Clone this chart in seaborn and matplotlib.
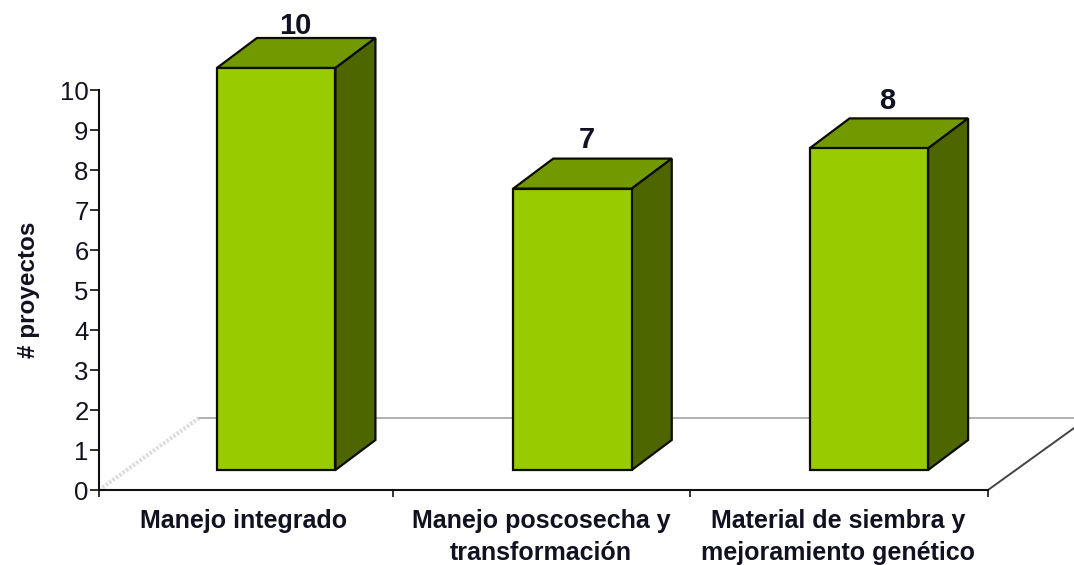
#!/usr/bin/env python3

import matplotlib
matplotlib.use("Agg")
import matplotlib.pyplot as plt
from matplotlib.lines import Line2D
from matplotlib.patches import Polygon
from matplotlib.transforms import IdentityTransform
import seaborn as sns

categories = ["Manejo integrado",
              "Manejo poscosecha y\ntransformación",
              "Material de siembra y\nmejoramiento genético"]
proyectos = [10, 7, 8]
y_ticks = [0, 1, 2, 3, 4, 5, 6, 7, 8, 9, 10]

W, H = 1074, 565
FRONT = "#99CC00"
TOP = "#739900"
SIDE = "#4D6600"
EDGE = "#0c0c00"
INK = "#111122"

sns.set_style("white")
plt.rcParams["font.family"] = ["Liberation Sans", "DejaVu Sans"]

fig = plt.figure(figsize=(W / 100, H / 100), dpi=100)

# axes with ticks, in pixels of the picture
ax = fig.add_axes([99 / W, (H - 490) / H, 889 / W, 400 / H])
ax.set_xlim(0, 3)
ax.set_ylim(0, 10)
ax.set_yticks(y_ticks)
ax.set_xticks([0, 0.993, 1.996, 3])
ax.set_xticklabels([])
ax.set_xticks([0.487, 1.492, 2.494], minor=True)
ax.set_xticklabels(categories, minor=True, fontsize=18, fontweight="bold",
                   color=INK, linespacing=1.42)
ax.tick_params(axis="x", which="major", bottom=True, length=5, width=1.2, color="#111111")
ax.tick_params(axis="x", which="minor", bottom=False, length=0, pad=13.5)
ax.tick_params(axis="y", left=True, length=6.5, width=1.2, color="#111111",
               labelsize=18.5, labelcolor=INK, pad=1)
ax.set_ylabel("# proyectos", fontsize=17.5, fontweight="bold", color=INK, labelpad=14)
sns.despine(ax=ax)
for s in ["left", "bottom"]:
    ax.spines[s].set_linewidth(1.5)
    ax.spines[s].set_color("#111111")

# floor of the 3d box
id_tr = IdentityTransform()
ax.add_line(Line2D([99, 199], [H - 490, H - 418], transform=id_tr, color="#dddddd", lw=3,
                   ls=(0, (0.6, 0.4)), clip_on=False, zorder=1))
ax.add_line(Line2D([199, 1074], [H - 418, H - 418], transform=id_tr, color="#aaaaaa", lw=1.3,
                   clip_on=False, zorder=1))
ax.add_line(Line2D([988, 1088], [H - 490, H - 418], transform=id_tr, color="#444444", lw=1.4,
                   clip_on=False, zorder=1))

# bars sit on their own axes, moved into the depth of the box
ax_bars = fig.add_axes([128 / W, (H - 470) / H, 889 / W, 402 / H], zorder=3)
ax_bars.patch.set_alpha(0)
sns.barplot(x=categories, y=proyectos, color=FRONT, saturation=1, width=0.4,
            edgecolor=EDGE, linewidth=1.6, ax=ax_bars)
ax_bars.set_xlim(-0.5, 2.5)
ax_bars.set_ylim(0, 10)
ax_bars.set_axis_off()

dx = 40 / (889 / 3)
dy = 30 / 40.2
label_shift = [(-1, -2), (-6, 5), (-2, 3)]  # pixels, the labels are not quite centred
for bar, val, shift in zip(ax_bars.patches, proyectos, label_shift):
    x0, x1 = bar.get_x(), bar.get_x() + bar.get_width()
    bar.set_zorder(4)
    bar.set_clip_on(False)
    ax_bars.add_patch(Polygon([(x0, val), (x1, val), (x1 + dx, val + dy), (x0 + dx, val + dy)],
                              closed=True, fc=TOP, ec=EDGE, lw=1.6, clip_on=False, zorder=3))
    ax_bars.add_patch(Polygon([(x1, 0), (x1 + dx, dy), (x1 + dx, val + dy), (x1, val)],
                              closed=True, fc=SIDE, ec=EDGE, lw=1.6, clip_on=False, zorder=3))
    ax_bars.annotate(str(val), ((x0 + x1 + dx) / 2, val + dy), xytext=(shift[0] * 0.72, shift[1] * 0.72),
                     textcoords="offset points", ha="center", va="bottom", fontsize=21,
                     fontweight="bold", color=INK, annotation_clip=False)

fig.savefig("out.png", dpi=100)
plt.close()
